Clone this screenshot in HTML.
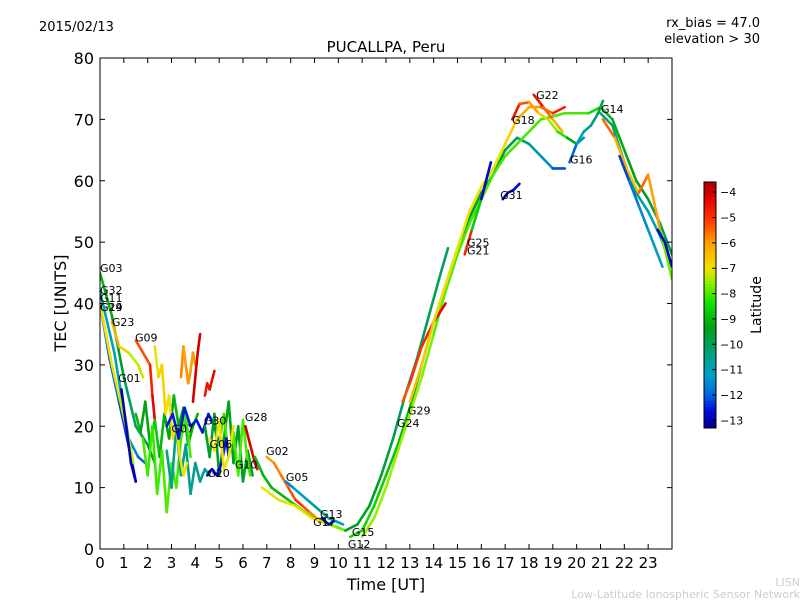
<!DOCTYPE html>
<html><head><meta charset="utf-8"><style>
body{margin:0;background:#fff;}
svg text{font-family:"DejaVu Sans","Liberation Sans",sans-serif;}
</style></head><body>
<svg id="chart" width="800" height="600" xmlns="http://www.w3.org/2000/svg">
<rect width="800" height="600" fill="#fff"/>
<text x="39" y="31" font-size="13">2015/02/13</text>
<text x="760" y="27" font-size="13" text-anchor="end">rx_bias = 47.0</text>
<text x="760" y="43" font-size="13" text-anchor="end">elevation &gt; 30</text>
<text x="386" y="52" font-size="15" text-anchor="middle">PUCALLPA, Peru</text>
<g id="plot"></g>
<g id="axes"></g>
<text transform="translate(66,303) rotate(-90)" font-size="16" text-anchor="middle">TEC [UNITS]</text>
<text x="386" y="590" font-size="16" text-anchor="middle">Time [UT]</text>
<g id="cbar"></g>
<text transform="translate(761,305) rotate(-90)" font-size="14" text-anchor="middle">Latitude</text>
<text x="800" y="586" font-size="11" fill="#ccc" text-anchor="end">LISN</text>
<text x="800" y="598" font-size="11" fill="#ccc" text-anchor="end">Low-Latitude Ionospheric Sensor Network</text>
</svg>
<script>
const xTicks=[0,1,2,3,4,5,6,7,8,9,10,11,12,13,14,15,16,17,18,19,20,21,22,23];
const yTicks=[0,10,20,30,40,50,60,70,80];
const cbTicks=[-4,-5,-6,-7,-8,-9,-10,-11,-12,-13];
const trackTimes=[
[0,0.5,1,1.5,2,2.3],
[0,0.6,1.2,1.6,1.9],
[0,0.4,0.8,1.3,1.5],
[0,0.5,0.8,1.2,1.4],
[0.5,0.8,1.2,1.6,1.8],
[0.9,1.1,1.3,1.5],
[1.5,1.8,2.1,2.2,2.3],
[1.5,1.7,1.9,2.1,2.3,2.5,2.7,2.9,3.1,3.3,3.5,3.7,3.9,4.1],
[1.8,2.0,2.2,2.4,2.6,2.8,3.0,3.2,3.4,3.6,3.8],
[2.8,3.0,3.2,3.4,3.6,3.8,4.0,4.2,4.4,4.6],
[2.3,2.45,2.6,2.75,2.9,3.05,3.2,3.35,3.5,3.65],
[3.4,3.5,3.6,3.7,3.8,3.9,4.0],
[3.9,4.0,4.1,4.2],
[2.8,3.05,3.3,3.55,3.8,4.05,4.3,4.55,4.8,5.0],
[4.4,4.5,4.6,4.8],
[4.4,4.6,4.8,5.0,5.2,5.4,5.6,5.8,6.0,6.2,6.4],
[5.0,5.2,5.4,5.6,5.8,6.0,6.2,6.3],
[4.5,4.7,4.9,5.1,5.3,5.4],
[6.1,6.3,6.5,6.6],
[4.6,4.8,5.0,5.2,5.4,5.6],
[6.5,6.85,7.2,7.55,7.9,8.25,8.6,8.95,9.3,9.65,10.0,10.3],
[7.0,7.3,7.6,7.9,8.2,8.5,8.8,9.1,9.3],
[7.8,8.1,8.4,8.7,9.0,9.3,9.6,9.9,10.2],
[6.8,7.15,7.5,7.85,8.2,8.55,8.9,9.25,9.6,9.95,10.3],
[9.3,9.45,9.6,9.8],
[10.3,10.8,11.3,11.8,12.3,12.8,13.3,13.8,14.3,14.6],
[10.5,11,11.5,12,12.5,13,13.5,14,14.5,15,15.5,16,16.5,17,17.5,18,18.5,19,19.5],
[11,11.5,12,12.5,13,13.5,14,14.5,15,15.5,16,16.5,17,17.5,18,18.5,19,19.5,20,20.5,21],
[12.7,13,13.5,14,14.5],
[13,13.5,14,14.5,15,15.5,16,16.5,17,17.5,18,18.5,19,19.5],
[17.3,17.6,18,18.4,18.8,19.2,19.6,20,20.3],
[18.2,18.6,19,19.4],
[19.7,20,20.3,20.6,20.9,21.1],
[16.9,17.1,17.35,17.6],
[15.3,15.6,16,16.4],
[21,21.5,22,22.5,23,23.5,24],
[21,21.5,22,22.5,23,23.5,24],
[21.1,21.6,22.1,22.6,23,23.5,24],
[21.8,22.2,22.6,23,23.3,23.6],
[23.4,23.7,24]
];
const trackTEC=[
[45,38,28,20,17,14],
[42,32,18,15,14],
[40,31,24,15,11],
[40,30,25,18,14],
[37,33,32,30,28],
[26,20,14,11],
[34,32,30,25,21],
[22,19,24,17,21,15,22,18,25,20,23,17,20,22],
[18,12,20,9,16,6,14,10,18,22,15],
[16,10,20,12,17,9,14,11,13,12],
[33,28,30,22,25,18,20,15,12,14],
[28,33,30,27,29,32,30],
[24,28,32,35],
[20,22,18,23,20,21,19,22,20,17],
[25,27,26,29],
[20,15,22,12,18,24,14,20,11,16,12],
[17,22,15,19,12,21,14,12],
[12,13,12,14,18,15],
[20,17,14,13],
[18,16,21,13,15,20],
[15,12,10,9,8,7,6,5,4.5,4,3.5,3],
[15,14,12,10,8,7,6,5,4.8],
[11,10,9,8,7,6,5,4.5,4],
[10,9,8,7.5,7,6,5,4.5,4,3.5,3],
[5,4.5,4,4.5],
[3,4,7,12,18,25,31,38,45,49],
[2,3,7,12,17,23,30,37,43,49,54,58,61,65,67,66,64,62,62],
[2,5,10,16,22,28,35,42,48,53,57,61,64,66,68,70,70.5,71,71,71,72],
[24,27,33,37,40],
[24,30,37,43,49,55,59,62,66,70,72,72,71,72],
[70,72.5,72.8,71,70,68,67,66,67],
[74,72,70,68],
[63,66,68,69,71,73],
[57,58,58.5,59.5],
[48,52,57,63],
[71,69,63,58,55,51,46],
[72,70,65,60,57,53,48],
[70,67,62,58,61,52,44],
[64,60,56,52,49,46],
[52,50,46]
];
const trackLat=[
[-9,-9,-10,-10,-10,-9],
[-11,-11,-11,-12,-12],
[-12,-12,-12,-12.5,-13],
[-7,-7,-7,-7.5,-7],
[-6,-6.5,-7,-7.5,-7],
[-13,-13,-13,-13],
[-5,-5.5,-5,-4.5,-4],
[-9,-9,-9.5,-9,-8.5,-9,-9,-9.5,-9,-9,-9.5,-9,-9,-9],
[-8,-8,-8.2,-8,-8,-8,-7.8,-8,-8,-8,-8],
[-10.5,-10.5,-10.5,-10.8,-10.5,-10.5,-10.5,-10.8,-10.5,-10.5],
[-7,-7,-6.5,-7,-7,-7,-7,-7.2,-7,-7],
[-5.5,-6,-6,-5.8,-6,-6,-5.8],
[-4,-4,-4,-4],
[-12.5,-12.5,-12.5,-12.5,-12.5,-12.5,-12.5,-12.5,-12.5,-12.5],
[-4.5,-4.5,-4.5,-4.3],
[-9.5,-9.5,-9.5,-9.5,-9.5,-9,-9.5,-9.5,-9.5,-9.5,-9.5],
[-8,-8,-8,-8,-8,-8,-8,-8],
[-12.8,-12.8,-12.8,-12.5,-12.5,-12.5],
[-4,-4,-4.3,-4.5],
[-7,-7,-7,-7,-7,-7],
[-9,-9,-9,-9,-9,-8.5,-8.5,-8.5,-8,-8,-8,-8],
[-6,-6,-5.5,-5.5,-5,-5,-5.5,-6,-6.5],
[-11.5,-11.5,-11,-11,-10.5,-10.5,-10.5,-11,-11.5],
[-7,-7,-7.2,-7,-7,-7,-7,-7,-7.5,-7.5,-8],
[-13,-13,-12.8,-13],
[-9.5,-9.5,-9.5,-9.5,-10,-10,-10,-10,-10,-10.2],
[-8.5,-8.5,-8.5,-8.7,-9,-9,-9.2,-9.5,-9.5,-9.5,-9.5,-9.5,-9.5,-9.5,-10,-10.5,-11,-11.8,-12.5],
[-7.5,-7.5,-7.5,-7.5,-7.5,-7.5,-7.8,-8,-8,-8,-8,-8,-8,-8,-8,-8,-8,-8,-8,-8,-9],
[-5.5,-5,-5,-4.5,-4.2],
[-6.5,-6.5,-6.8,-7,-7,-7,-7,-7,-7,-6.5,-6,-6,-5,-4.5],
[-4,-5,-5.5,-6.5,-7,-8,-8.5,-10,-11.5],
[-4,-5,-6,-6.5],
[-12.5,-11.5,-11,-10.5,-10,-9.5],
[-13,-13,-12.8,-12.5],
[-4.5,-5,-12.5,-13],
[-10.5,-10.5,-10.5,-10.5,-11,-11,-11.2],
[-9,-9,-9.2,-9.5,-9.5,-9.8,-10],
[-5,-6,-6.5,-6.5,-4.5,-7.5,-8],
[-12.5,-12,-11.5,-11.5,-11,-11],
[-13,-13,-12.8]
];
const labelText=["G03","G32","G11","G19","G24","G23","G09","G01","G07","G30","G06","G20","G10","G28","G02","G05","G13","G17","G15","G12","G29","G24","G25","G21","G31","G18","G22","G16","G14"];
const labelTime=[0,0,0,0,0,0.5,1.47,0.76,3.0,4.36,4.6,4.5,5.66,6.08,6.97,7.8,9.23,8.94,10.57,10.4,12.92,12.46,15.4,15.4,16.79,17.29,18.3,19.72,21.02];
const labelTEC=[45.8,42.2,40.9,39.4,39.4,37,34.5,27.9,19.6,20.9,17.1,12.4,13.8,21.5,16,11.7,5.7,4.4,2.8,0.8,22.6,20.5,49.9,48.6,57.7,69.9,74,63.5,71.7];

const NS="http://www.w3.org/2000/svg";
const X0=100,X1=672,Y0=549,Y1=58;
const xs=t=>X0+t*(X1-X0)/24;
const ys=v=>Y0-v*(Y0-Y1)/80;
const LMIN=-13.3,LMAX=-3.6;
const cStops=[[-13.3,[0,0,140]],[-12.6,[0,10,220]],[-12,[0,100,220]],[-11.2,[0,160,200]],[-10.3,[0,160,120]],[-9.3,[0,160,20]],[-8.3,[20,230,0]],[-7.5,[150,240,0]],[-7,[240,225,0]],[-6,[255,160,0]],[-5,[255,50,0]],[-4.2,[225,0,0]],[-3.6,[170,0,0]]];
function jet(lat){lat=Math.max(LMIN,Math.min(LMAX,lat));
 for(let i=0;i<cStops.length-1;i++){const a=cStops[i],b=cStops[i+1];
  if(lat<=b[0]){const f=(lat-a[0])/(b[0]-a[0]);const c=a[1].map((v,k)=>Math.round(v+(b[1][k]-v)*f));return `rgb(${c[0]},${c[1]},${c[2]})`;}}
 return 'rgb(170,0,0)';}
function mk(tag,attrs,parent){const e=document.createElementNS(NS,tag);for(const k in attrs)e.setAttribute(k,attrs[k]);parent.appendChild(e);return e;}
const plot=document.getElementById('plot');
const axes=document.getElementById('axes');
const clip=mk('clipPath',{id:'pc'},plot);mk('rect',{x:X0,y:Y1,width:X1-X0,height:Y0-Y1},clip);
const tg=mk('g',{'clip-path':'url(#pc)'},plot);
trackTimes.forEach((ts,i)=>{
 const g=mk('g',{},tg);
 
 
 for(let j=0;j<ts.length-1;j++){
  const s=mk('line',{x1:xs(ts[j]),y1:ys(trackTEC[i][j]),x2:xs(ts[j+1]),y2:ys(trackTEC[i][j+1]),stroke:jet((trackLat[i][j]+trackLat[i][j+1])/2),'stroke-width':2.6,'stroke-linecap':'round'},g);
  
  
 }
});
labelText.forEach((t,i)=>{
 const e=mk('text',{x:xs(labelTime[i]),y:ys(labelTEC[i])+4,'font-size':11},plot);
 e.textContent=t;
 
 
});
const frame=mk('rect',{x:X0,y:Y1,width:X1-X0,height:Y0-Y1,fill:'none',stroke:'#000','stroke-width':1},axes);


xTicks.forEach(t=>{const x=xs(t);
 mk('line',{x1:x,y1:Y0,x2:x,y2:Y0-5,stroke:'#000'},axes);mk('line',{x1:x,y1:Y1,x2:x,y2:Y1+5,stroke:'#000'},axes);
 const e=mk('text',{x:x,y:Y0+19,'font-size':15,'text-anchor':'middle'},axes);e.textContent=t;
 
 
});
yTicks.forEach(v=>{const y=ys(v);
 mk('line',{x1:X0,y1:y,x2:X0+5,y2:y,stroke:'#000'},axes);mk('line',{x1:X1,y1:y,x2:X1-5,y2:y,stroke:'#000'},axes);
 const e=mk('text',{x:X0-6,y:y+6,'font-size':16,'text-anchor':'end'},axes);e.textContent=v;
 
 
});
const cb=document.getElementById('cbar');
const CY0=428,CY1=182;
const cy=l=>CY0-(l-LMIN)*(CY0-CY1)/(LMAX-LMIN);
for(let k=0;k<80;k++){const l0=LMIN+k*(LMAX-LMIN)/80;
 mk('rect',{x:704,y:cy(l0+(LMAX-LMIN)/80)-0.5,width:12,height:(CY0-CY1)/80+1,fill:jet(l0+(LMAX-LMIN)/160)},cb);}
mk('rect',{x:704,y:CY1,width:12,height:CY0-CY1,fill:'none',stroke:'#000'},cb);
cbTicks.forEach(l=>{const y=cy(l);
 mk('line',{x1:712,y1:y,x2:716,y2:y,stroke:'#000'},cb);
 const e=mk('text',{x:720,y:y+4,'font-size':11},cb);e.textContent='\u2212'+Math.abs(l);
 
 
});
</script>
</body></html>
